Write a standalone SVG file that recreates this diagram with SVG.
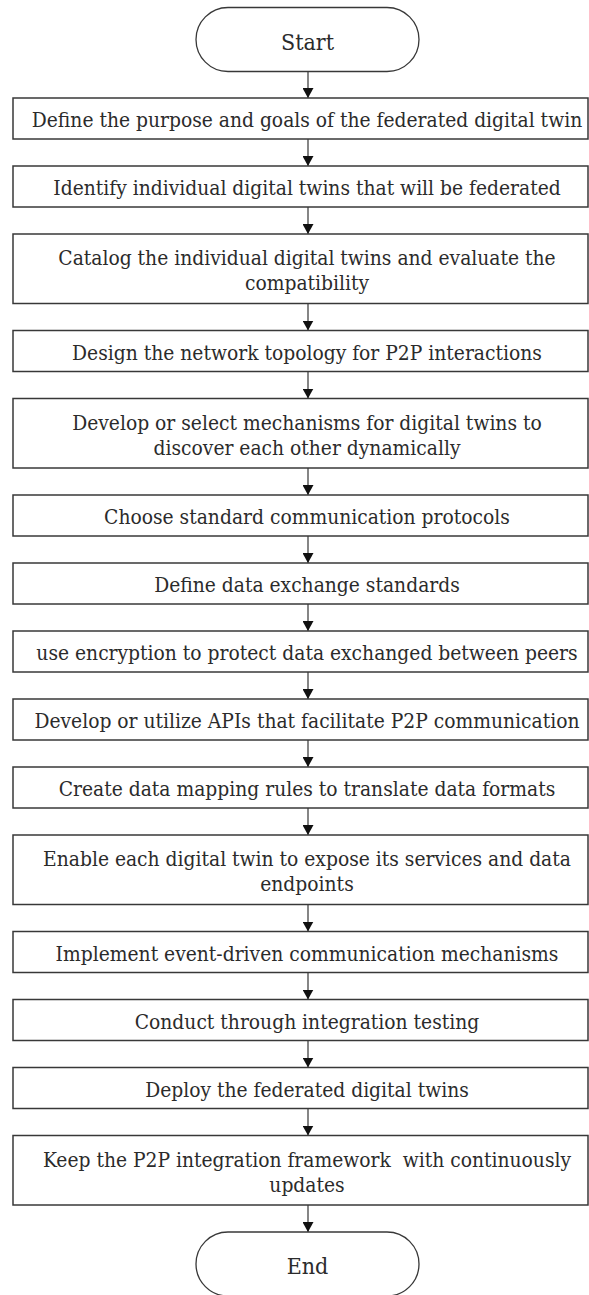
<svg xmlns="http://www.w3.org/2000/svg" width="589" height="1295" viewBox="0 0 589 1295">
  <style>
    .box { fill: #ffffff; stroke: #383838; stroke-width: 1.5; }
    .term { fill: #ffffff; stroke: #383838; stroke-width: 1.3; }
    .lbl { font-family: "DejaVu Serif Condensed", "DejaVu Serif", serif; font-stretch: condensed; font-size: 20.8px; fill: #2b2b2b; text-anchor: middle; }
    .tlbl { font-family: "DejaVu Serif Condensed", "DejaVu Serif", serif; font-stretch: condensed; font-size: 23px; fill: #2b2b2b; text-anchor: middle; }
    .conn { stroke: #222222; stroke-width: 1.1; fill: none; marker-end: url(#arrow); }
  </style>
  <defs>
    <marker id="arrow" viewBox="0 0 10 11" refX="10" refY="5.5" markerWidth="10" markerHeight="11" markerUnits="userSpaceOnUse" orient="auto">
      <path d="M0,0 L10,5.5 L0,11 z" fill="#111111"/>
    </marker>
  </defs>
  <rect width="589" height="1295" fill="#ffffff"/>

  <!-- connectors: one vertical arrow between each pair of steps -->
  <g id="connectors">
    <line class="conn" x1="308" y1="71.5" x2="308" y2="98"/>
    <line class="conn" x1="308" y1="139" x2="308" y2="166"/>
    <line class="conn" x1="308" y1="207" x2="308" y2="234"/>
    <line class="conn" x1="308" y1="303.5" x2="308" y2="330.5"/>
    <line class="conn" x1="308" y1="371.5" x2="308" y2="398.5"/>
    <line class="conn" x1="308" y1="468" x2="308" y2="495"/>
    <line class="conn" x1="308" y1="536" x2="308" y2="563"/>
    <line class="conn" x1="308" y1="604" x2="308" y2="631"/>
    <line class="conn" x1="308" y1="672" x2="308" y2="699"/>
    <line class="conn" x1="308" y1="740" x2="308" y2="767"/>
    <line class="conn" x1="308" y1="808" x2="308" y2="835"/>
    <line class="conn" x1="308" y1="904.5" x2="308" y2="931.5"/>
    <line class="conn" x1="308" y1="972.5" x2="308" y2="999.5"/>
    <line class="conn" x1="308" y1="1040.5" x2="308" y2="1067.5"/>
    <line class="conn" x1="308" y1="1108.5" x2="308" y2="1135.5"/>
    <line class="conn" x1="308" y1="1205" x2="308" y2="1232"/>
  </g>

  <g id="start">
    <rect class="term" x="196" y="7.5" width="223" height="64" rx="32" ry="32"/>
    <text class="tlbl" x="307.5" y="50">Start</text>
  </g>

  <g id="step01">
    <rect class="box" x="13" y="98" width="575" height="41"/>
    <text class="lbl" x="307" y="127.3">Define the purpose and goals of the federated digital twin</text>
  </g>
  <g id="step02">
    <rect class="box" x="13" y="166" width="575" height="41"/>
    <text class="lbl" x="307" y="195.3">Identify individual digital twins that will be federated</text>
  </g>
  <g id="step03">
    <rect class="box" x="13" y="234" width="575" height="69.5"/>
    <text class="lbl" x="307" y="265">Catalog the individual digital twins and evaluate the</text>
    <text class="lbl" x="307" y="290">compatibility</text>
  </g>
  <g id="step04">
    <rect class="box" x="13" y="330.5" width="575" height="41"/>
    <text class="lbl" x="307" y="359.8">Design the network topology for P2P interactions</text>
  </g>
  <g id="step05">
    <rect class="box" x="13" y="398.5" width="575" height="69.5"/>
    <text class="lbl" x="307" y="429.5">Develop or select mechanisms for digital twins to</text>
    <text class="lbl" x="307" y="454.5">discover each other dynamically</text>
  </g>
  <g id="step06">
    <rect class="box" x="13" y="495" width="575" height="41"/>
    <text class="lbl" x="307" y="524.3">Choose standard communication protocols</text>
  </g>
  <g id="step07">
    <rect class="box" x="13" y="563" width="575" height="41"/>
    <text class="lbl" x="307" y="592.3">Define data exchange standards</text>
  </g>
  <g id="step08">
    <rect class="box" x="13" y="631" width="575" height="41"/>
    <text class="lbl" x="307" y="660.3">use encryption to protect data exchanged between peers</text>
  </g>
  <g id="step09">
    <rect class="box" x="13" y="699" width="575" height="41"/>
    <text class="lbl" x="307" y="728.3">Develop or utilize APIs that facilitate P2P communication</text>
  </g>
  <g id="step10">
    <rect class="box" x="13" y="767" width="575" height="41"/>
    <text class="lbl" x="307" y="796.3">Create data mapping rules to translate data formats</text>
  </g>
  <g id="step11">
    <rect class="box" x="13" y="835" width="575" height="69.5"/>
    <text class="lbl" x="307" y="866">Enable each digital twin to expose its services and data</text>
    <text class="lbl" x="307" y="891">endpoints</text>
  </g>
  <g id="step12">
    <rect class="box" x="13" y="931.5" width="575" height="41"/>
    <text class="lbl" x="307" y="960.8">Implement event-driven communication mechanisms</text>
  </g>
  <g id="step13">
    <rect class="box" x="13" y="999.5" width="575" height="41"/>
    <text class="lbl" x="307" y="1028.8">Conduct through integration testing</text>
  </g>
  <g id="step14">
    <rect class="box" x="13" y="1067.5" width="575" height="41"/>
    <text class="lbl" x="307" y="1096.8">Deploy the federated digital twins</text>
  </g>
  <g id="step15">
    <rect class="box" x="13" y="1135.5" width="575" height="69.5"/>
    <text class="lbl" x="307" y="1166.5">Keep the P2P integration framework&#160; with continuously</text>
    <text class="lbl" x="307" y="1191.5">updates</text>
  </g>

  <g id="end">
    <rect class="term" x="196" y="1232" width="223" height="64" rx="32" ry="32"/>
    <text class="tlbl" x="307.5" y="1274">End</text>
  </g>
</svg>
